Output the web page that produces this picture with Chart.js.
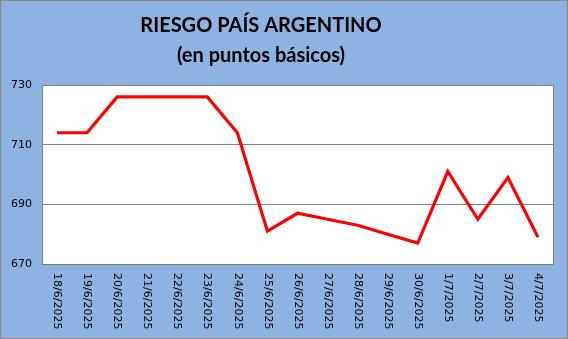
<!DOCTYPE html>
<html>
<head>
<meta charset="utf-8">
<script src="https://cdn.jsdelivr.net/npm/chart.js@4"></script>
<style>
  html, body { margin: 0; padding: 0; background: #8db3e2; }
  #wrap { width: 568px; height: 339px; position: relative; }
</style>
</head>
<body>
<div id="wrap"><canvas id="riesgo" width="568" height="339"></canvas></div>
<script>
const fechas = ["18/6/2025", "19/6/2025", "20/6/2025", "21/6/2025", "22/6/2025", "23/6/2025",
  "24/6/2025", "25/6/2025", "26/6/2025", "27/6/2025", "28/6/2025", "29/6/2025", "30/6/2025",
  "1/7/2025", "2/7/2025", "3/7/2025", "4/7/2025"];
const puntos = [714, 714, 726, 726, 726, 726, 714, 681, 687, 685, 683, 680, 677, 701, 685, 699, 679];
const yTicks = [670, 690, 710, 730];
const titulo = ["RIESGO PAÍS ARGENTINO", "(en puntos básicos)"];

// fondo, titulo, recuadro del area de trazado y etiquetas verticales del eje x
const marco = {
  id: "marco",
  beforeDraw(chart) {
    const { ctx, chartArea: a, width, height } = chart;
    ctx.save();
    ctx.fillStyle = "#8db3e2";
    ctx.fillRect(0, 0, width, height);
    ctx.strokeStyle = "#8c8c8c";
    ctx.lineWidth = 1;
    ctx.strokeRect(0.5, 0.5, width - 1, height - 1);
    ctx.fillStyle = "#ffffff";
    ctx.fillRect(a.left, a.top, a.right - a.left, a.bottom - a.top);
    // titulo en dos lineas
    ctx.fillStyle = "#000000";
    ctx.font = "bold 20px Lato";
    ctx.textAlign = "center";
    ctx.textBaseline = "middle";
    ctx.fillText(titulo[0], 261, 26);
    ctx.fillText(titulo[1], 261, 56);
    ctx.restore();
  },
  beforeDatasetsDraw(chart) {
    const { ctx, chartArea: a } = chart;
    ctx.save();
    ctx.strokeStyle = "#808080";
    ctx.lineWidth = 1;
    ctx.strokeRect(Math.round(a.left) + 0.5, Math.round(a.top) + 0.5,
      Math.round(a.right - a.left), Math.round(a.bottom - a.top));
    ctx.restore();
  },
  afterDraw(chart) {
    const { ctx, chartArea: a } = chart;
    const x = chart.scales.x;
    ctx.save();
    ctx.font = "11px 'DejaVu Sans'";
    ctx.fillStyle = "#000000";
    ctx.textAlign = "left";
    ctx.textBaseline = "middle";
    fechas.forEach((f, i) => {
      const px = x.getPixelForTick(i);
      ctx.save();
      ctx.translate(px, a.bottom + 9);
      ctx.rotate(Math.PI / 2);
      ctx.fillText(f, 0, 0);
      ctx.restore();
    });
    ctx.restore();
  }
};

new Chart(document.getElementById("riesgo"), {
  type: "line",
  data: {
    labels: fechas,
    datasets: [{
      label: "Riesgo país",
      data: puntos,
      borderColor: "#ff0000",
      backgroundColor: "#ff0000",
      borderWidth: 3.2,
      pointRadius: 0,
      tension: 0
    }]
  },
  options: {
    responsive: false,
    animation: false,
    layout: { padding: { left: 0, right: 15, top: 85, bottom: 0 } },
    plugins: {
      legend: { display: false },
      tooltip: { enabled: false },
      title: { display: false }
    },
    scales: {
      x: {
        offset: true,
        grid: { display: false, drawTicks: false },
        border: { display: false },
        ticks: { display: false },
        afterFit(s) { s.height = 75; }
      },
      y: {
        min: 670,
        max: 730,
        afterBuildTicks(s) { s.ticks = yTicks.map(v => ({ value: v })); },
        grid: { color: "#808080", lineWidth: 1, drawTicks: false },
        border: { display: false },
        ticks: {
          color: "#000000",
          padding: 10,
          font: { family: "DejaVu Sans", size: 11 }
        },
        afterFit(s) { s.width = 42; }
      }
    }
  },
  plugins: [marco]
});
</script>
</body>
</html>
